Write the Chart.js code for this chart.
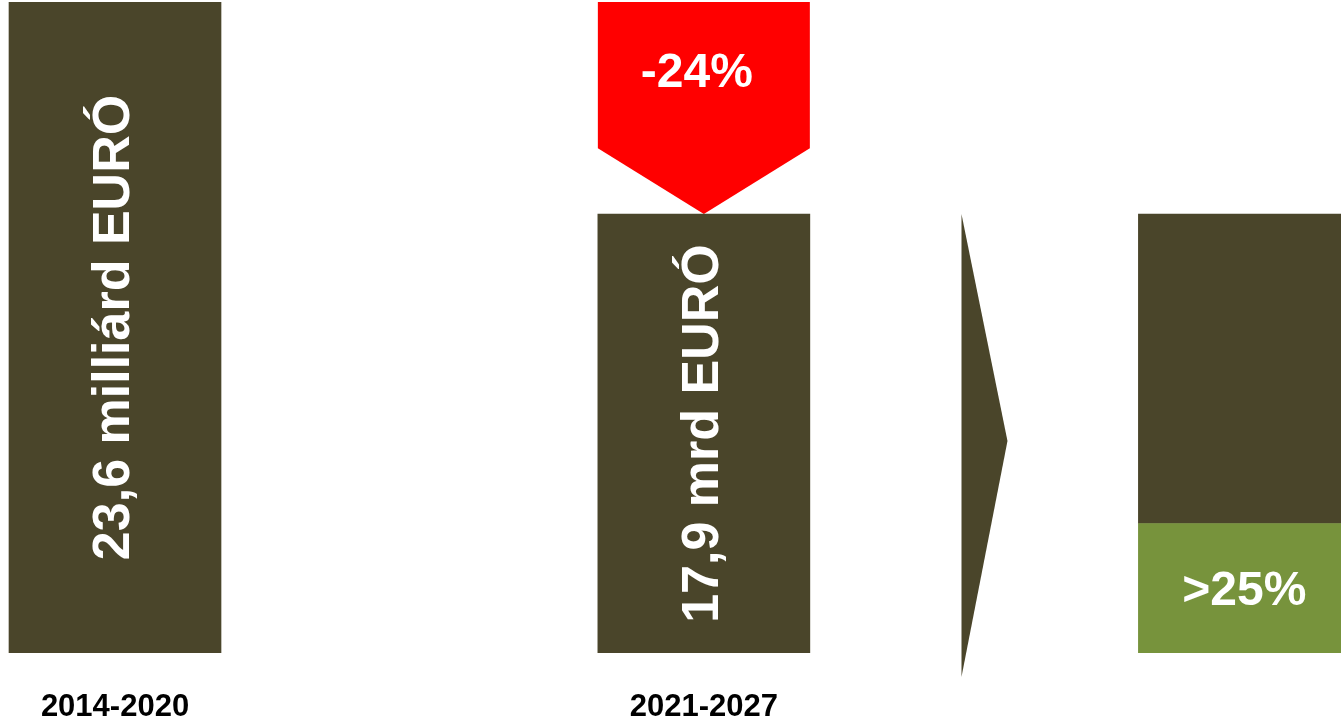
<!DOCTYPE html>
<html>
<head>
<meta charset="utf-8">
<title>2014-2020 / 2021-2027</title>
<script src="https://cdn.jsdelivr.net/npm/chart.js@4/dist/chart.umd.min.js"></script>
<style>
  html, body { margin: 0; padding: 0; background: #ffffff; }
  #wrap { position: relative; width: 1341px; height: 723px; }
  #chart { display: block; }
</style>
</head>
<body>
<div id="wrap"><canvas id="chart" width="1341" height="723"></canvas></div>
<script>
// Programme periods and their budgets (billion EUR)
const periods = ['2014-2020', '2021-2027'];
const budgets = [23.6, 17.9];
const budgetLabels = ['23,6 milliárd EURÓ', '17,9 mrd EURÓ'];

// Share of the 2021-2027 budget earmarked (percent) and its caption
const earmarkedShare = 29.5;
const earmarkedLabel = '>25%';

// Horizontal slots: 2014-2020, 2021-2027, separator arrow, 2021-2027 breakdown
const columnPos = [0, 2.56, 3.78, 4.91];

// Floor of the value axis (bars are drawn from here upwards)
const axisFloor = 6.1;

const DARK = '#4A452A';
const GREEN = '#77933C';
const RED = '#FF0000';
const FONT = "'Liberation Sans', Arial, sans-serif";

const changePct = Math.round((budgets[1] - budgets[0]) / budgets[0] * 100);
const changeLabel = changePct + '%';

// The breakdown column uses a percent axis on which 100% lines up with the 2021-2027 budget
const shareMax = 100 * (budgets[0] - axisFloor) / (budgets[1] - axisFloor);

const TIP_RATIO = 0.31;   // depth of the arrow point relative to its width

const shapesPlugin = {
  id: 'shapes',
  beforeDatasetDraw(chart, args) {
    const ds = chart.data.datasets[args.index];
    if (ds.id !== 'change') return;
    const ctx = chart.ctx;
    const el = args.meta.data[0];
    const p = el.getProps(['x', 'y', 'base', 'width'], true);
    const left = p.x - p.width / 2, right = p.x + p.width / 2;
    const tip = p.width * TIP_RATIO;
    ctx.save();
    ctx.fillStyle = ds.backgroundColor;
    ctx.beginPath();
    ctx.moveTo(left, p.y);
    ctx.lineTo(right, p.y);
    ctx.lineTo(right, p.base - tip);
    ctx.lineTo(p.x, p.base);
    ctx.lineTo(left, p.base - tip);
    ctx.closePath();
    ctx.fill();
    ctx.restore();
    return false;
  },
  beforeDatasetsDraw(chart) {
    // separator arrow between the period columns and the breakdown
    const ctx = chart.ctx;
    const xs = chart.scales.x, ys = chart.scales.y;
    const cx = xs.getPixelForValue(columnPos[2]);
    const half = 23;
    const top = ys.getPixelForValue(budgets[1]);
    const bottom = chart.chartArea.bottom + 24;
    const mid = top + (bottom - top) * 0.49;
    ctx.save();
    ctx.fillStyle = DARK;
    ctx.beginPath();
    ctx.moveTo(cx - half, top);
    ctx.lineTo(cx + half, mid);
    ctx.lineTo(cx - half, bottom);
    ctx.closePath();
    ctx.fill();
    ctx.restore();
  },
  afterDatasetsDraw(chart) {
    const ctx = chart.ctx;
    ctx.save();
    ctx.fillStyle = '#ffffff';
    ctx.textAlign = 'center';
    ctx.textBaseline = 'middle';

    // vertical budget captions inside the bars
    const budgetMeta = chart.getDatasetMeta(0);
    budgetMeta.data.forEach((el, i) => {
      const p = el.getProps(['x', 'y', 'base'], true);
      ctx.save();
      ctx.translate(p.x, (p.y + p.base) / 2);
      ctx.rotate(-Math.PI / 2);
      ctx.font = 'bold 52px ' + FONT;
      ctx.fillText(budgetLabels[i], 0, 0);
      ctx.restore();
    });

    // change caption inside the arrow
    const ch = chart.getDatasetMeta(1).data[0].getProps(['x', 'y', 'base', 'width'], true);
    ctx.font = 'bold 48px ' + FONT;
    const tip = ch.width * TIP_RATIO;
    ctx.fillText(changeLabel, ch.x - 7, (ch.y + ch.base - tip) / 2 - 1);

    // share caption inside the green segment
    const g = chart.getDatasetMeta(2).data[0].getProps(['x', 'y', 'base'], true);
    ctx.fillText(earmarkedLabel, g.x, (g.y + g.base) / 2 + 4);
    ctx.restore();
  }
};

new Chart(document.getElementById('chart'), {
  type: 'bar',
  data: {
    datasets: [
      {
        id: 'budget',
        data: budgets.map((v, i) => ({ x: columnPos[i], y: v })),
        backgroundColor: DARK,
        base: axisFloor,
        yAxisID: 'y'
      },
      {
        id: 'change',
        data: [{ x: columnPos[1], y: [budgets[1], budgets[0]] }],
        backgroundColor: RED,
        yAxisID: 'y'
      },
      {
        id: 'earmarked',
        data: [{ x: columnPos[3], y: [0, earmarkedShare] }],
        backgroundColor: GREEN,
        yAxisID: 'share'
      },
      {
        id: 'rest',
        data: [{ x: columnPos[3], y: [earmarkedShare, 100] }],
        backgroundColor: DARK,
        yAxisID: 'share'
      }
    ]
  },
  options: {
    responsive: false,
    animation: false,
    layout: { padding: { top: 2, left: 0, right: 0, bottom: -39 } },
    datasets: {
      bar: { grouped: false, barThickness: 212, borderWidth: 0 }
    },
    plugins: {
      legend: { display: false },
      tooltip: { enabled: false }
    },
    scales: {
      x: {
        type: 'linear',
        offset: false,
        min: -0.5,
        max: 5.33,
        grid: { display: false, drawTicks: false },
        border: { display: false },
        afterBuildTicks(scale) {
          scale.ticks = periods.map((p, i) => ({ value: columnPos[i] }));
        },
        ticks: {
          padding: 39,
          color: '#000000',
          font: { family: FONT, size: 31, weight: 'bold', lineHeight: 1 },
          maxRotation: 0,
          autoSkip: false,
          callback: (value, index) => periods[index]
        }
      },
      y: {
        display: false,
        min: axisFloor,
        max: budgets[0]
      },
      share: {
        display: false,
        position: 'right',
        min: 0,
        max: shareMax
      }
    }
  },
  plugins: [shapesPlugin]
});
</script>
</body>
</html>
